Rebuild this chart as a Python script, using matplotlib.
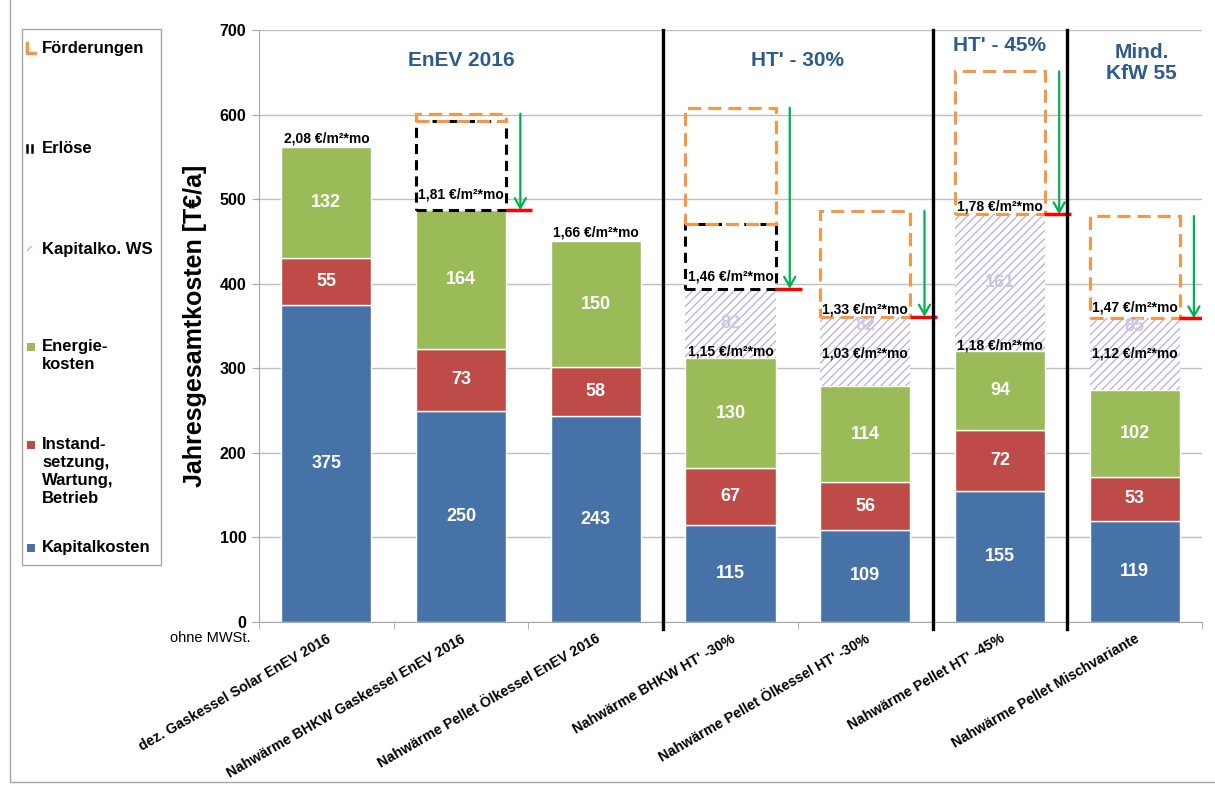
import matplotlib
matplotlib.use("Agg")
import matplotlib.pyplot as plt
from matplotlib.lines import Line2D
from matplotlib.patches import Rectangle
import numpy as np

plt.rcParams['font.family'] = ['Liberation Sans', 'DejaVu Sans']
plt.rcParams['hatch.linewidth'] = 0.9

# --- data ---
categories = ["dez. Gaskessel Solar EnEV 2016",
              "Nahwärme BHKW Gaskessel EnEV 2016",
              "Nahwärme Pellet Ölkessel EnEV 2016",
              "Nahwärme BHKW HT' -30%",
              "Nahwärme Pellet Ölkessel HT' -30%",
              "Nahwärme Pellet HT' -45%",
              "Nahwärme Pellet Mischvariante"]
kapitalkosten = [375, 250, 243, 115, 109, 155, 119]
instandsetzung = [55, 73, 58, 67, 56, 72, 53]
energiekosten = [132, 164, 150, 130, 114, 94, 102]
kapital_ws = [0, 0, 0, 82, 82, 161, 85]
erloese = [0, 105, 0, 77, 0, 0, 0]
foerderungen = [0, 9, 0, 137, 125, 169, 121]
preis_ohne_ws = ["2,08", "1,81", "1,66", "1,15", "1,03", "1,18", "1,12"]
preis_mit_ws = ["", "", "", "1,46", "1,33", "1,78", "1,47"]
gruppen = ["EnEV 2016", "HT' - 30%", "HT' - 45%", "Mind.\nKfW 55"]
gruppen_grenzen = [2.5, 4.5, 5.5]
legend_labels = ["Förderungen", "Erlöse", "Kapitalko. WS", "Energie-\nkosten",
                 "Instand-\nsetzung,\nWartung,\nBetrieb", "Kapitalkosten"]

# --- layout ---
off_unten = [10, 19, 9, 8, 39, 6, 43]
off_oben = [0, 0, 0, 14, 8, 9, 13]
off_ws = [0, 0, 0, 0, 31, 0, 33]
gruppen_pos = [(1.0, 664), (3.5, 664), (5.0, 682), (6.05, 661)]
legend_y = [49, 149, 250, 347, 445, 548]

BLUE = '#4672A8'
RED = '#BE4B48'
GREEN = '#9BBB59'
LAV = '#B8AED4'
ORANGE = '#F79646'
TITLE = '#2E5C8A'

W, H = 1215, 785
fig = plt.figure(figsize=(W / 100, H / 100), dpi=100)
ax = fig.add_axes([259 / W, 1 - 622 / H, (1202 - 259) / W, (622 - 30) / H])


def px(x, y):
    return x / W, 1 - y / H


x = np.arange(len(categories))
bw = 0.67
kap = np.array(kapitalkosten)
ins = np.array(instandsetzung)
ene = np.array(energiekosten)
ws = np.array(kapital_ws)
erl = np.array(erloese)
foe = np.array(foerderungen)

ax.set_xlim(-0.5, 6.5)
ax.set_ylim(0, 700)
ax.set_yticks(range(0, 701, 100))
ax.yaxis.grid(True, color='#BFBFBF', linewidth=1)
ax.set_axisbelow(True)

ax.bar(x, kap, bw, color=BLUE, edgecolor='white', linewidth=1)
ax.bar(x, ins, bw, bottom=kap, color=RED, edgecolor='white', linewidth=1)
ax.bar(x, ene, bw, bottom=kap + ins, color=GREEN, edgecolor='white', linewidth=1)
base_ws = kap + ins + ene
m = ws > 0
ax.bar(x[m], ws[m], bw, bottom=base_ws[m], color='white', edgecolor=LAV,
       linewidth=0, hatch='////')
base_erl = base_ws + ws
m = erl > 0
ax.bar(x[m], erl[m], bw, bottom=base_erl[m], color='white', edgecolor='black',
       linewidth=2.2, linestyle=(0, (3.3, 2.0)))
base_foe = base_erl + erl
m = foe > 0
ax.bar(x[m], foe[m], bw, bottom=base_foe[m], color='none', edgecolor=ORANGE,
       linewidth=2.2, linestyle=(0, (4.3, 2.3)))

# value labels
for i in range(len(x)):
    ax.text(x[i], kap[i] / 2, str(kap[i]), ha='center', va='center',
            color='white', fontsize=13, fontweight='bold')
    ax.text(x[i], kap[i] + ins[i] / 2, str(ins[i]), ha='center', va='center',
            color='white', fontsize=13, fontweight='bold')
    ax.text(x[i], base_ws[i] - ene[i] / 2, str(ene[i]), ha='center', va='center',
            color='white', fontsize=13, fontweight='bold')
    if ws[i] > 0:
        ax.text(x[i], base_ws[i] + ws[i] / 2 + off_ws[i], str(ws[i]),
                ha='center', va='center', color='#CDC5E2', fontsize=13,
                fontweight='bold')
    ax.text(x[i], base_ws[i] + off_unten[i], preis_ohne_ws[i] + " €/m²*mo",
            ha='center', va='center', fontsize=10, fontweight='bold')
    if preis_mit_ws[i]:
        ax.text(x[i], base_erl[i] + off_oben[i], preis_mit_ws[i] + " €/m²*mo",
                ha='center', va='center', fontsize=10, fontweight='bold')
    top = base_foe[i] + foe[i]
    if foe[i] > 0:
        ax.annotate("", xy=(x[i] + 0.44, base_erl[i]), xytext=(x[i] + 0.44, top),
                    arrowprops=dict(arrowstyle='->,head_length=0.7,head_width=0.4',
                                    color='#00B050', lw=1.6, shrinkA=0, shrinkB=0))
        ax.plot([x[i] + 0.33, x[i] + 0.53], [base_erl[i], base_erl[i]],
                color='#FF0000', lw=2.5, solid_capstyle='butt', zorder=5)

# group separators and titles
for g in gruppen_grenzen:
    ax.plot([g, g], [-8, 700], color='black', lw=2.4, clip_on=False, zorder=6)
for name, (gx, gy) in zip(gruppen, gruppen_pos):
    ax.text(gx, gy, name, ha='center', va='center', color=TITLE,
            fontsize=15, fontweight='bold', linespacing=1.1)

# axes styling
for s in ['top', 'right']:
    ax.spines[s].set_visible(False)
ax.spines['left'].set_color('#A6A6A6')
ax.spines['bottom'].set_color('#A6A6A6')
ax.tick_params(axis='y', length=5, color='#A6A6A6', pad=4, labelsize=11.5)
for lab in ax.get_yticklabels():
    lab.set_fontweight('bold')
ax.set_xticks(x)
ax.set_xticklabels(categories, rotation=30, ha='right', va='top',
                   rotation_mode='anchor', fontsize=10.3, fontweight='bold')
ax.set_xticks(np.arange(-0.5, 7, 1), minor=True)
ax.tick_params(axis='x', which='major', length=0, pad=7)
ax.tick_params(axis='x', which='minor', length=5, color='#A6A6A6')
ax.set_ylabel("Jahresgesamtkosten [T€/a]", fontsize=18, fontweight='bold',
              labelpad=9)

fig.text(*px(210, 638), "ohne MWSt.", ha='center', va='center', fontsize=10.5)

# legend box on the left
fig.add_artist(Rectangle(px(22, 565), 139 / W, (565 - 29) / H, fill=False,
                         edgecolor='#A6A6A6', lw=1, transform=fig.transFigure))
for lab, ly in zip(legend_labels, legend_y):
    fig.text(*px(42, ly - 8), lab, ha='left', va='top', fontsize=12,
             fontweight='bold', linespacing=1.25)

# legend markers
fig.add_artist(Line2D([27 / W, 27 / W, 35 / W], [1 - 43 / H, 1 - 53 / H, 1 - 53 / H],
                      color=ORANGE, lw=2.5, transform=fig.transFigure))
for mx in [27, 32]:
    fig.add_artist(Line2D([mx / W, mx / W], [1 - 145 / H, 1 - 152 / H],
                          color='black', lw=1.8, transform=fig.transFigure))
fig.add_artist(Rectangle(px(27, 254), 8 / W, 8 / H, facecolor='white',
                         edgecolor=LAV, lw=0, hatch='///', transform=fig.transFigure))
for col, ly in zip([GREEN, RED, BLUE], legend_y[3:]):
    fig.add_artist(Rectangle(px(27, ly + 4), 8 / W, 8 / H, facecolor=col,
                             edgecolor='none', transform=fig.transFigure))

# outer chart frame
fig.add_artist(Line2D([10 / W, 10 / W, 1], [1, 1 - 782 / H, 1 - 782 / H],
                      color='#A6A6A6', lw=1, transform=fig.transFigure))

fig.savefig("out.png", dpi=100)
